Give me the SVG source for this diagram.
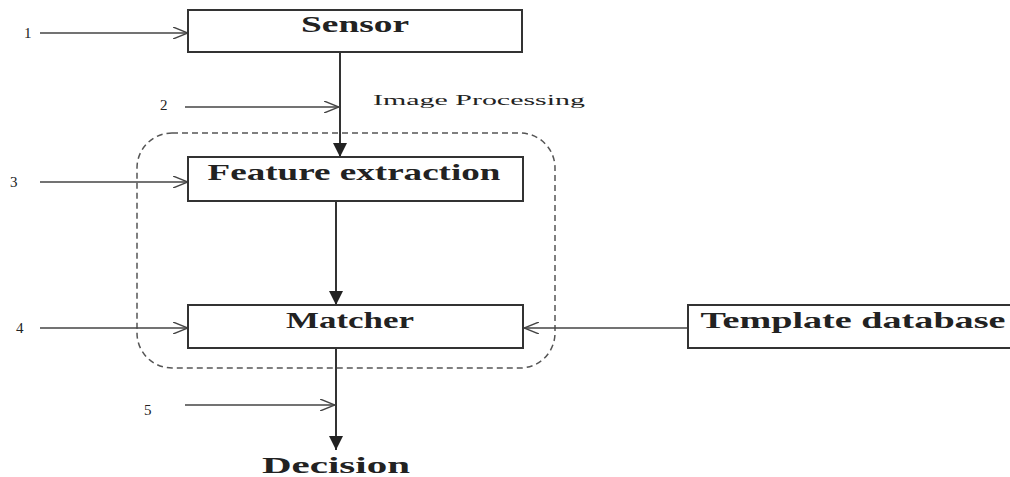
<svg xmlns="http://www.w3.org/2000/svg" width="1010" height="477" viewBox="0 0 1010 477">
<style>
.box{fill:#fff;stroke:#333;stroke-width:2}
.lbl{font-family:"Liberation Serif",serif;font-weight:bold;font-size:23px;fill:#222;text-anchor:middle}
.num{font-family:"Liberation Serif",serif;font-size:15px;fill:#222}
.ln{stroke:#444;stroke-width:1.6;fill:none}
.vl{stroke:#333;stroke-width:2;fill:none}
</style>
<defs>
<marker id="open" viewBox="0 0 16 12" refX="15" refY="6" markerWidth="16" markerHeight="12" markerUnits="userSpaceOnUse" orient="auto">
<path d="M0,0 L15,6 L0,12" fill="none" stroke="#444" stroke-width="1.4"/>
</marker>
<marker id="fill" viewBox="0 0 14 14" refX="14" refY="7" markerWidth="14" markerHeight="14" markerUnits="userSpaceOnUse" orient="auto">
<path d="M0,0 L14,7 L0,14 Z" fill="#222"/>
</marker>
</defs>
<rect x="137" y="133" width="418" height="235" rx="35" ry="35" fill="none" stroke="#555" stroke-width="1.5" stroke-dasharray="6,4"/>
<g id="connectors">
<line class="ln" x1="40" y1="33" x2="188" y2="33" marker-end="url(#open)"/>
<line class="vl" x1="340" y1="52" x2="340" y2="157" marker-end="url(#fill)"/>
<line class="ln" x1="185" y1="107" x2="339" y2="107" marker-end="url(#open)"/>
<line class="ln" x1="40" y1="182" x2="188" y2="182" marker-end="url(#open)"/>
<line class="vl" x1="336" y1="201" x2="336" y2="305" marker-end="url(#fill)"/>
<line class="ln" x1="40" y1="328" x2="188" y2="328" marker-end="url(#open)"/>
<line class="ln" x1="688" y1="328" x2="524" y2="328" marker-end="url(#open)"/>
<line class="vl" x1="336" y1="348" x2="336" y2="450" marker-end="url(#fill)"/>
<line class="ln" x1="185" y1="405" x2="335" y2="405" marker-end="url(#open)"/>
</g>
<g id="sensor"><rect class="box" x="188" y="10" width="334" height="42"/><text class="lbl" x="355" y="32" textLength="108" lengthAdjust="spacingAndGlyphs">Sensor</text></g>
<g id="feature"><rect class="box" x="188" y="157" width="335" height="44"/><text class="lbl" x="354" y="180" textLength="293" lengthAdjust="spacingAndGlyphs">Feature extraction</text></g>
<g id="matcher"><rect class="box" x="188" y="305" width="335" height="43"/><text class="lbl" x="350" y="328" textLength="128" lengthAdjust="spacingAndGlyphs">Matcher</text></g>
<g id="template"><rect class="box" x="688" y="305" width="330" height="43"/><text class="lbl" x="853" y="328" textLength="305" lengthAdjust="spacingAndGlyphs">Template database</text></g>
<g id="decision"><text class="lbl" x="336" y="473" textLength="148" lengthAdjust="spacingAndGlyphs">Decision</text></g>
<g id="labels">
<text class="num" x="24" y="38">1</text>
<text class="num" x="160" y="110">2</text>
<text class="num" x="10" y="187">3</text>
<text class="num" x="16" y="333">4</text>
<text class="num" x="144" y="415">5</text>
<text x="373" y="105" font-family="Liberation Serif,serif" font-size="15" fill="#222" textLength="212" lengthAdjust="spacingAndGlyphs">Image Processing</text>
</g>
</svg>
